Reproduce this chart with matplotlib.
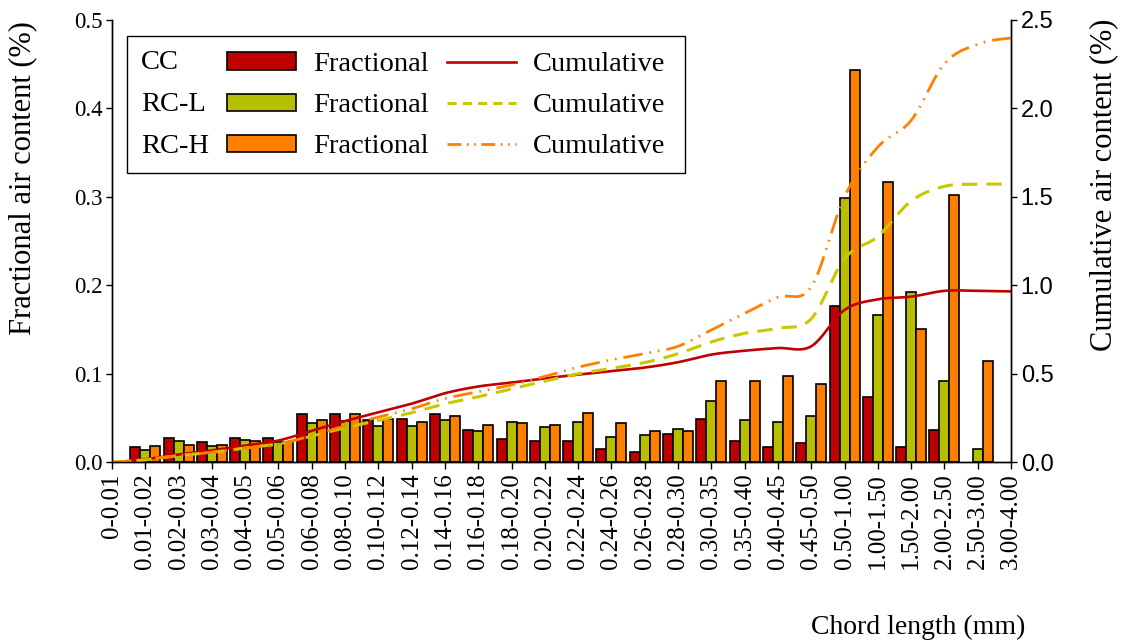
import numpy as np
import matplotlib
matplotlib.use("Agg")
import matplotlib.pyplot as plt
from matplotlib.patches import Rectangle, Patch
from matplotlib.lines import Line2D

plt.rcParams['font.family'] = ['Liberation Serif', 'DejaVu Serif']

# categorie (classi di lunghezza della corda, mm)
labels = ["0-0.01", "0.01-0.02", "0.02-0.03", "0.03-0.04", "0.04-0.05", "0.05-0.06",
          "0.06-0.08", "0.08-0.10", "0.10-0.12", "0.12-0.14", "0.14-0.16", "0.16-0.18",
          "0.18-0.20", "0.20-0.22", "0.22-0.24", "0.24-0.26", "0.26-0.28", "0.28-0.30",
          "0.30-0.35", "0.35-0.40", "0.40-0.45", "0.45-0.50", "0.50-1.00", "1.00-1.50",
          "1.50-2.00", "2.00-2.50", "2.50-3.00", "3.00-4.00"]

# contenuto d'aria frazionario (%)
cc_frac = [0, 0.017, 0.027, 0.023, 0.028, 0.028, 0.055, 0.055, 0.048, 0.049, 0.055, 0.036,
           0.026, 0.024, 0.024, 0.015, 0.012, 0.032, 0.049, 0.024, 0.017, 0.022, 0.177,
           0.074, 0.017, 0.036, 0, 0]
rcl_frac = [0, 0.014, 0.024, 0.018, 0.025, 0.023, 0.044, 0.047, 0.041, 0.041, 0.048, 0.035,
            0.045, 0.040, 0.046, 0.029, 0.031, 0.038, 0.069, 0.048, 0.046, 0.052, 0.299,
            0.166, 0.192, 0.092, 0.015, 0]
rch_frac = [0, 0.018, 0.019, 0.019, 0.024, 0.023, 0.048, 0.055, 0.049, 0.045, 0.052, 0.042,
            0.044, 0.042, 0.056, 0.044, 0.035, 0.035, 0.092, 0.092, 0.098, 0.088, 0.443,
            0.317, 0.150, 0.302, 0.114, 0]

# contenuto d'aria cumulativo (%)
cc_cum = [0, 0.017, 0.044, 0.067, 0.095, 0.123, 0.178, 0.233, 0.282, 0.331, 0.390, 0.428,
          0.450, 0.474, 0.495, 0.515, 0.535, 0.565, 0.608, 0.630, 0.645, 0.655, 0.860,
          0.920, 0.935, 0.968, 0.968, 0.965]
rcl_cum = [0, 0.014, 0.038, 0.056, 0.081, 0.104, 0.148, 0.195, 0.236, 0.280, 0.330, 0.370,
           0.415, 0.458, 0.500, 0.530, 0.563, 0.613, 0.680, 0.728, 0.757, 0.810, 1.150,
           1.275, 1.475, 1.558, 1.570, 1.570]
rch_cum = [0, 0.018, 0.037, 0.056, 0.080, 0.103, 0.151, 0.206, 0.255, 0.302, 0.360, 0.398,
           0.437, 0.485, 0.537, 0.578, 0.614, 0.655, 0.747, 0.840, 0.932, 0.990, 1.500,
           1.780, 1.930, 2.250, 2.360, 2.395]

RED = "#C00000"
GREEN = "#B8BE00"
ORANGE = "#FF8000"


def smooth(x, y, n=20):
    # curva Catmull-Rom che passa per i punti
    x = np.asarray(x, float)
    y = np.asarray(y, float)
    yp = np.concatenate([[y[0]], y, [y[-1]]])
    t = np.linspace(0, 1, n, endpoint=False)
    xs, ys = [], []
    for i in range(len(y) - 1):
        p0, p1, p2, p3 = yp[i], yp[i + 1], yp[i + 2], yp[i + 3]
        ys.append(0.5 * (2 * p1 + (-p0 + p2) * t + (2 * p0 - 5 * p1 + 4 * p2 - p3) * t ** 2
                         + (-p0 + 3 * p1 - 3 * p2 + p3) * t ** 3))
        xs.append(x[i] + (x[i + 1] - x[i]) * t)
    xs.append([x[-1]])
    ys.append([y[-1]])
    return np.concatenate(xs), np.concatenate(ys)


fig = plt.figure(figsize=(11.22, 6.44), dpi=100)
ax = fig.add_axes([112 / 1122, 1 - 462.3 / 644, 899 / 1122, 442.8 / 644])
ax2 = ax.twinx()

x = np.arange(len(labels))
w = 0.3
for vals, off, col in [(cc_frac, -w, RED), (rcl_frac, 0, GREEN), (rch_frac, w, ORANGE)]:
    vals = np.asarray(vals)
    keep = vals > 0  # niente barre a zero
    ax.bar(x[keep] + off, vals[keep], w, color=col, edgecolor="black", linewidth=1.2)

ls_green = (0, (5, 3))
ls_orange = (0, (7, 2.5, 0.6, 2.5, 0.6, 2.5))
sx, sy = smooth(x, cc_cum)
ax2.plot(sx, sy, color=RED, lw=1.9, solid_capstyle="butt")
sx, sy = smooth(x, rcl_cum)
ax2.plot(sx, sy, color="#C8C800", lw=2.2, linestyle=ls_green)
sx, sy = smooth(x, rch_cum)
ax2.plot(sx, sy, color=ORANGE, lw=2.0, linestyle=ls_orange)

ax.set_xlim(0, len(labels) - 1)
ax.set_ylim(0, 0.5)
ax2.set_ylim(0, 2.5)
ax.set_xticks(x)
ax.set_xticklabels(labels, rotation=90, fontsize=18)
ax.set_yticks(np.arange(0, 0.51, 0.1))
ax.set_yticklabels([f"{v:.1f}" for v in np.arange(0, 0.51, 0.1)], fontsize=16.5)
ax2.set_yticks(np.arange(0, 2.51, 0.5))
ax2.set_yticklabels([f"{v:.1f}" for v in np.arange(0, 2.51, 0.5)], fontsize=17,
                    family="Liberation Sans")

for a in (ax, ax2):
    a.spines["top"].set_visible(False)
    a.spines["left"].set_linewidth(1.0)
    a.spines["right"].set_linewidth(1.0)
    a.spines["bottom"].set_linewidth(1.0)
ax.tick_params(axis="x", direction="out", length=5, width=1, pad=3)
ax.tick_params(axis="y", direction="out", length=4, width=1, pad=3)
ax2.tick_params(axis="y", direction="out", length=4, width=1, pad=3)

fig.text(23 / 1122, 1 - 178 / 644, "Fractional air content (%)", rotation=90,
         ha="center", va="center", fontsize=22)
fig.text(1104 / 1122, 1 - 185 / 644, "Cumulative air content (%)", rotation=90,
         ha="center", va="center", fontsize=22)
fig.text(1025 / 1122, 1 - 627 / 644, "Chord length (mm)", ha="right", va="center",
         fontsize=20)

# legenda
handles = [Patch(facecolor=RED, edgecolor="black", linewidth=1.2),
           Patch(facecolor=GREEN, edgecolor="black", linewidth=1.2),
           Patch(facecolor=ORANGE, edgecolor="black", linewidth=1.2),
           Line2D([], [], color=RED, lw=1.9),
           Line2D([], [], color="#C8C800", lw=2.2, linestyle=(0, (3, 2))),
           Line2D([], [], color=ORANGE, lw=2.0, linestyle=(0, (5, 2, 0.6, 2, 0.6, 2)))]
leg = ax2.legend(handles, ["Fractional"] * 3 + ["Cumulative"] * 3, ncol=2,
                 loc="upper left", bbox_to_anchor=((227.5 - 112) / 899, (462.3 - 52) / 442.8),
                 frameon=False, fontsize=20.5, borderpad=0, borderaxespad=0,
                 handlelength=2.42, handleheight=0.55, handletextpad=0.6,
                 columnspacing=0.63, labelspacing=0.57)
ax2.add_patch(Rectangle(((127 - 112) / 899, (462.3 - 173) / 442.8), (685 - 127) / 899,
                        (173 - 36) / 442.8, transform=ax2.transAxes, fill=False,
                        edgecolor="black", linewidth=1.0, clip_on=False))
for name, ypx in zip(["CC", "RC-L", "RC-H"], [62.7, 104, 146]):
    ax2.text((141 - 112) / 899, (462.3 - ypx) / 442.8, name, transform=ax2.transAxes,
             ha="left", va="center", fontsize=20.5)

fig.savefig("out.png", dpi=100)
